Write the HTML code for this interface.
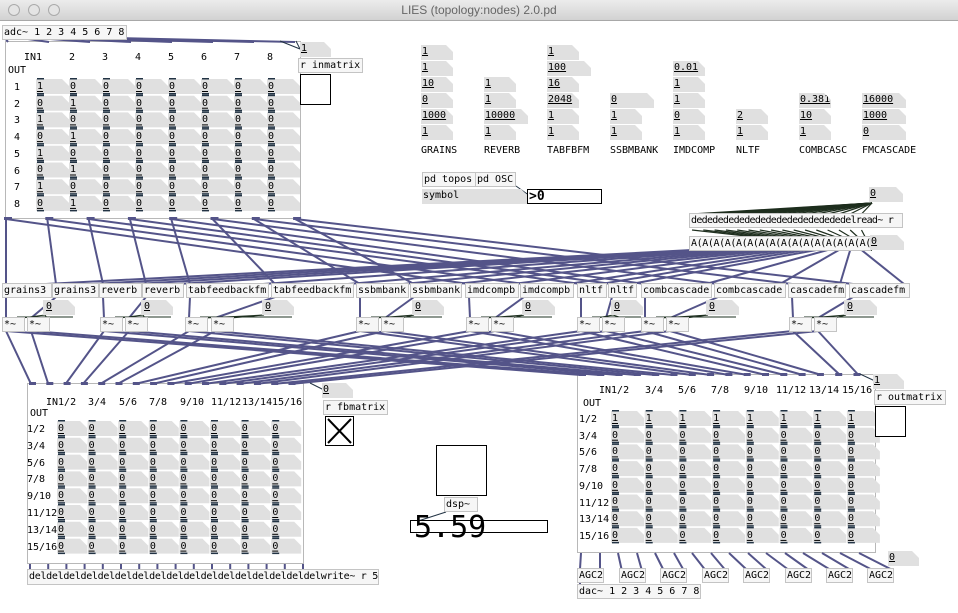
<!DOCTYPE html>
<html><head><meta charset="utf-8"><style>
*{margin:0;padding:0;box-sizing:border-box}
body{width:958px;height:613px;background:#fff;position:relative;overflow:hidden;font-family:"DejaVu Sans Mono","Liberation Mono",monospace;font-size:10px;color:#000}
#tb{position:absolute;left:0;top:0;width:958px;height:21px;background:linear-gradient(#ececec,#d2d2d2);border-bottom:1px solid #a8a8a8;font-family:"Liberation Sans",sans-serif;font-size:12px;color:#666;text-align:center;line-height:21px}
.tl{position:absolute;top:4px;width:12px;height:12px;border-radius:50%;border:1px solid #aaa;background:#e4e4e4}
svg{position:absolute;left:0;top:0}
.o,.n,.l{position:absolute;white-space:pre;line-height:13px;height:15px}
.o{border:1px solid #c4c4c4;background:#f6f6f6;padding-left:1px;overflow:hidden}
.n{background:#e0e0e0;clip-path:polygon(0 0,calc(100% - 7px) 0,100% 7px,100% 100%,0 100%);padding-left:1px;text-decoration:underline}
.g{position:absolute;background:#fff;border:1px solid #b8b8b8}
.row{position:absolute;white-space:pre;line-height:13px}
</style></head><body>
<div id="tb"><span class="tl" style="left:8px"></span><span class="tl" style="left:28px"></span><span class="tl" style="left:48px"></span>LIES (topology:nodes) 2.0.pd</div>

<div class="g" style="left:5px;top:41px;width:296px;height:178px"></div>
<div class="g" style="left:27px;top:383px;width:277px;height:181px"></div>
<div class="g" style="left:577px;top:374px;width:299px;height:179px"></div>

<svg id="s" width="958" height="613"></svg>

<!-- top matrix text -->
<div class="l" style="left:24px;top:51px">IN1</div>
<div class="l" style="left:69px;top:51px">2</div>
<div class="l" style="left:102px;top:51px">3</div>
<div class="l" style="left:135px;top:51px">4</div>
<div class="l" style="left:168px;top:51px">5</div>
<div class="l" style="left:201px;top:51px">6</div>
<div class="l" style="left:234px;top:51px">7</div>
<div class="l" style="left:267px;top:51px">8</div>
<div class="l" style="left:8px;top:64px">OUT</div>
<div class="l" style="left:14px;top:80px;line-height:16.7px;height:140px">1
2
3
4
5
6
7
8</div>
<div class="row" style="left:37px;top:80px;letter-spacing:26.98px">10000000</div>
<div class="row" style="left:37px;top:97px;letter-spacing:26.98px">01000000</div>
<div class="row" style="left:37px;top:113px;letter-spacing:26.98px">10000000</div>
<div class="row" style="left:37px;top:130px;letter-spacing:26.98px">01000000</div>
<div class="row" style="left:37px;top:147px;letter-spacing:26.98px">10000000</div>
<div class="row" style="left:37px;top:163px;letter-spacing:26.98px">01000000</div>
<div class="row" style="left:37px;top:180px;letter-spacing:26.98px">10000000</div>
<div class="row" style="left:37px;top:197px;letter-spacing:26.98px">01000000</div>

<!-- fb matrix text -->
<div class="l" style="left:46px;top:396px">IN1/2</div>
<div class="l" style="left:88px;top:396px">3/4</div>
<div class="l" style="left:119px;top:396px">5/6</div>
<div class="l" style="left:149px;top:396px">7/8</div>
<div class="l" style="left:180px;top:396px">9/10</div>
<div class="l" style="left:211px;top:396px">11/12</div>
<div class="l" style="left:242px;top:396px">13/14</div>
<div class="l" style="left:272px;top:396px">15/16</div>
<div class="l" style="left:30px;top:407px">OUT</div>
<div class="l" style="left:27px;top:422px;line-height:16.8px;height:140px">1/2
3/4
5/6
7/8
9/10
11/12
13/14
15/16</div>
<div class="row" style="left:58px;top:422px;letter-spacing:24.6px">00000000</div>
<div class="row" style="left:58px;top:439px;letter-spacing:24.6px">00000000</div>
<div class="row" style="left:58px;top:456px;letter-spacing:24.6px">00000000</div>
<div class="row" style="left:58px;top:472px;letter-spacing:24.6px">00000000</div>
<div class="row" style="left:58px;top:489px;letter-spacing:24.6px">00000000</div>
<div class="row" style="left:58px;top:506px;letter-spacing:24.6px">00000000</div>
<div class="row" style="left:58px;top:523px;letter-spacing:24.6px">00000000</div>
<div class="row" style="left:58px;top:540px;letter-spacing:24.6px">00000000</div>

<!-- out matrix text -->
<div class="l" style="left:599px;top:384px">IN1/2</div>
<div class="l" style="left:645px;top:384px">3/4</div>
<div class="l" style="left:678px;top:384px">5/6</div>
<div class="l" style="left:711px;top:384px">7/8</div>
<div class="l" style="left:744px;top:384px">9/10</div>
<div class="l" style="left:776px;top:384px">11/12</div>
<div class="l" style="left:809px;top:384px">13/14</div>
<div class="l" style="left:842px;top:384px">15/16</div>
<div class="l" style="left:583px;top:397px">OUT</div>
<div class="l" style="left:579px;top:412px;line-height:16.7px;height:140px">1/2
3/4
5/6
7/8
9/10
11/12
13/14
15/16</div>
<div class="row" style="left:612px;top:412px;letter-spacing:27.7px">11111111</div>
<div class="row" style="left:612px;top:429px;letter-spacing:27.7px">00000000</div>
<div class="row" style="left:612px;top:445px;letter-spacing:27.7px">00000000</div>
<div class="row" style="left:612px;top:462px;letter-spacing:27.7px">00000000</div>
<div class="row" style="left:612px;top:479px;letter-spacing:27.7px">00000000</div>
<div class="row" style="left:612px;top:495px;letter-spacing:27.7px">00000000</div>
<div class="row" style="left:612px;top:512px;letter-spacing:27.7px">00000000</div>
<div class="row" style="left:612px;top:529px;letter-spacing:27.7px">00000000</div>

<div class="o" style="left:2px;top:25px;width:125px">adc~ 1 2 3 4 5 6 7 8</div>
<div class="n" style="left:300px;top:42px;width:31px">1</div>
<div class="o" style="left:298px;top:58px;width:65px">r inmatrix</div>
<div class="g" style="left:300px;top:74px;width:31px;height:31px;border-color:#000"></div>

<!-- param numboxes -->
<div class="n" style="left:421px;top:45px;width:32px">1</div>
<div class="n" style="left:421px;top:61px;width:32px">1</div>
<div class="n" style="left:421px;top:77px;width:32px">10</div>
<div class="n" style="left:421px;top:93px;width:32px">0</div>
<div class="n" style="left:421px;top:109px;width:32px">1000</div>
<div class="n" style="left:421px;top:125px;width:32px">1</div>
<div class="n" style="left:484px;top:77px;width:32px">1</div>
<div class="n" style="left:484px;top:93px;width:32px">1</div>
<div class="n" style="left:484px;top:109px;width:44px">10000</div>
<div class="n" style="left:484px;top:125px;width:32px">1</div>
<div class="n" style="left:547px;top:45px;width:32px">1</div>
<div class="n" style="left:547px;top:61px;width:44px">100</div>
<div class="n" style="left:547px;top:77px;width:32px">16</div>
<div class="n" style="left:547px;top:93px;width:32px">2048</div>
<div class="n" style="left:547px;top:109px;width:32px">1</div>
<div class="n" style="left:547px;top:125px;width:32px">1</div>
<div class="n" style="left:610px;top:93px;width:44px">0</div>
<div class="n" style="left:610px;top:109px;width:32px">1</div>
<div class="n" style="left:610px;top:125px;width:32px">1</div>
<div class="n" style="left:673px;top:61px;width:32px">0.01</div>
<div class="n" style="left:673px;top:77px;width:32px">1</div>
<div class="n" style="left:673px;top:93px;width:32px">1</div>
<div class="n" style="left:673px;top:109px;width:32px">0</div>
<div class="n" style="left:673px;top:125px;width:32px">1</div>
<div class="n" style="left:736px;top:109px;width:32px">2</div>
<div class="n" style="left:736px;top:125px;width:32px">1</div>
<div class="n" style="left:799px;top:93px;width:32px">0.381</div>
<div class="n" style="left:799px;top:109px;width:32px">10</div>
<div class="n" style="left:799px;top:125px;width:32px">1</div>
<div class="n" style="left:862px;top:93px;width:44px">16000</div>
<div class="n" style="left:862px;top:109px;width:44px">1000</div>
<div class="n" style="left:862px;top:125px;width:44px">0</div>
<div class="l" style="left:421px;top:144px">GRAINS</div>
<div class="l" style="left:484px;top:144px">REVERB</div>
<div class="l" style="left:547px;top:144px">TABFBFM</div>
<div class="l" style="left:610px;top:144px">SSBMBANK</div>
<div class="l" style="left:673px;top:144px">IMDCOMP</div>
<div class="l" style="left:736px;top:144px">NLTF</div>
<div class="l" style="left:799px;top:144px">COMBCASC</div>
<div class="l" style="left:862px;top:144px">FMCASCADE</div>

<div class="o" style="left:422px;top:172px;width:54px">pd topos</div>
<div class="o" style="left:475px;top:172px;width:41px">pd OSC</div>
<div class="n" style="left:422px;top:189px;width:106px;text-decoration:none">symbol</div>
<div class="o" style="left:527px;top:189px;width:75px;background:#fff;border-color:#000;font-weight:bold;font-size:13px">&gt;0</div>

<div class="n" style="left:869px;top:187px;width:34px">0</div>
<div class="o" style="left:689px;top:213px;width:214px;letter-spacing:-0.7px">dededededededededededededededelread~ r</div>
<div class="o" style="left:689px;top:236px;width:182px;letter-spacing:-0.4px">A(A(A(A(A(A(A(A(A(A(A(A(A(A(A(A(</div>
<div class="n" style="left:870px;top:235px;width:34px">0</div>

<!-- object row -->
<div class="o" style="left:2px;top:283px;width:50px">grains3</div>
<div class="o" style="left:52px;top:283px;width:47px">grains3</div>
<div class="o" style="left:99px;top:283px;width:43px">reverb</div>
<div class="o" style="left:142px;top:283px;width:42px">reverb</div>
<div class="o" style="left:186px;top:283px;width:83px">tabfeedbackfm</div>
<div class="o" style="left:271px;top:283px;width:83px">tabfeedbackfm</div>
<div class="o" style="left:356px;top:283px;width:53px">ssbmbank</div>
<div class="o" style="left:410px;top:283px;width:52px">ssbmbank</div>
<div class="o" style="left:465px;top:283px;width:54px">imdcompb</div>
<div class="o" style="left:520px;top:283px;width:54px">imdcompb</div>
<div class="o" style="left:577px;top:283px;width:30px">nltf</div>
<div class="o" style="left:608px;top:283px;width:29px">nltf</div>
<div class="o" style="left:641px;top:283px;width:71px">combcascade</div>
<div class="o" style="left:714px;top:283px;width:72px">combcascade</div>
<div class="o" style="left:788px;top:283px;width:58px">cascadefm</div>
<div class="o" style="left:849px;top:283px;width:61px">cascadefm</div>

<div class="n" style="left:43px;top:300px;width:32px;padding-left:3px">0</div>
<div class="n" style="left:141px;top:300px;width:32px;padding-left:3px">0</div>
<div class="n" style="left:262px;top:300px;width:32px;padding-left:3px">0</div>
<div class="n" style="left:412px;top:300px;width:32px;padding-left:3px">0</div>
<div class="n" style="left:522px;top:300px;width:33px;padding-left:3px">0</div>
<div class="n" style="left:611px;top:300px;width:32px;padding-left:3px">0</div>
<div class="n" style="left:706px;top:300px;width:33px;padding-left:3px">0</div>
<div class="n" style="left:844px;top:300px;width:33px;padding-left:3px">0</div>

<div class="o" style="left:2px;top:317px;width:23px">*~</div>
<div class="o" style="left:27px;top:317px;width:23px">*~</div>
<div class="o" style="left:100px;top:317px;width:23px">*~</div>
<div class="o" style="left:125px;top:317px;width:23px">*~</div>
<div class="o" style="left:185px;top:317px;width:23px">*~</div>
<div class="o" style="left:211px;top:317px;width:23px">*~</div>
<div class="o" style="left:356px;top:317px;width:23px">*~</div>
<div class="o" style="left:381px;top:317px;width:23px">*~</div>
<div class="o" style="left:466px;top:317px;width:23px">*~</div>
<div class="o" style="left:491px;top:317px;width:23px">*~</div>
<div class="o" style="left:577px;top:317px;width:23px">*~</div>
<div class="o" style="left:602px;top:317px;width:23px">*~</div>
<div class="o" style="left:641px;top:317px;width:23px">*~</div>
<div class="o" style="left:666px;top:317px;width:23px">*~</div>
<div class="o" style="left:789px;top:317px;width:23px">*~</div>
<div class="o" style="left:814px;top:317px;width:23px">*~</div>

<!-- fb matrix side -->
<div class="n" style="left:322px;top:383px;width:31px">0</div>
<div class="o" style="left:323px;top:400px;width:65px">r fbmatrix</div>
<div class="g" style="left:325px;top:416px;width:29px;height:30px;border-color:#000"></div>
<svg width="958" height="613" style="pointer-events:none"><line x1="328" y1="419" x2="351" y2="443" stroke="#000" stroke-width="2"/><line x1="351" y1="419" x2="328" y2="443" stroke="#000" stroke-width="2"/></svg>

<div class="n" style="left:873px;top:374px;width:31px">1</div>
<div class="o" style="left:874px;top:390px;width:72px">r outmatrix</div>
<div class="g" style="left:875px;top:406px;width:31px;height:31px;border-color:#000"></div>

<!-- dsp -->
<div class="g" style="left:436px;top:445px;width:51px;height:51px;border-color:#000"></div>
<div class="o" style="left:444px;top:497px;width:34px">dsp~</div>
<div class="o" style="left:410px;top:520px;width:138px;height:13px;background:#fff;border-color:#000"></div>
<div class="l" style="left:414px;top:510px;font-size:30px;line-height:36px;height:36px">5.59</div>

<!-- bottom rows -->
<div class="o" style="left:27px;top:569px;width:352px;height:16px;letter-spacing:-0.3px">deldeldeldeldeldeldeldeldeldeldeldeldeldeldeldeldelwrite~ r 50</div>
<div class="n" style="left:888px;top:551px;width:31px">0</div>
<div class="o" style="left:577px;top:568px;width:27px">AGC2</div>
<div class="o" style="left:619px;top:568px;width:27px">AGC2</div>
<div class="o" style="left:660px;top:568px;width:27px">AGC2</div>
<div class="o" style="left:702px;top:568px;width:27px">AGC2</div>
<div class="o" style="left:743px;top:568px;width:27px">AGC2</div>
<div class="o" style="left:785px;top:568px;width:27px">AGC2</div>
<div class="o" style="left:826px;top:568px;width:27px">AGC2</div>
<div class="o" style="left:867px;top:568px;width:27px">AGC2</div>
<div class="o" style="left:577px;top:584px;width:124px">dac~ 1 2 3 4 5 6 7 8</div>

<script>
var s=document.getElementById('s'),NS='http://www.w3.org/2000/svg';
function L(a,b,c,d,col,w){var e=document.createElementNS(NS,'line');e.setAttribute('x1',a);e.setAttribute('y1',b);e.setAttribute('x2',c);e.setAttribute('y2',d);e.setAttribute('stroke',col||'#545489');e.setAttribute('stroke-width',w||2);s.appendChild(e);}
function R(x,y,w,h,f){var e=document.createElementNS(NS,'rect');e.setAttribute('x',x);e.setAttribute('y',y);e.setAttribute('width',w);e.setAttribute('height',h);e.setAttribute('fill',f);s.appendChild(e);}
function P(x,y,w,h,f){var e=document.createElementNS(NS,'polygon');e.setAttribute('points',[x,y,x+w-7,y,x+w,y+7,x+w,y+h,x,y+h].join(' '));e.setAttribute('fill',f);s.appendChild(e);}
function grid(x0,dx,y0,dy,w){for(var r=0;r<8;r++)for(var c=0;c<8;c++){var x=x0+c*dx,y=y0+r*dy;P(x,y,w,15,'#e0e0e0');R(x+1,y-1,7,1.5,'#234');R(x+1,y+12,6,1,'#000');R(x+1,y+14,7,1.5,'#234');}}
grid(36,33,79,16.7,33);grid(57,30.6,421,16.8,30);grid(611,33.7,411,16.7,33);
var ob=[[2,50],[52,47],[99,43],[142,42],[186,83],[271,83],[356,53],[410,52],[465,54],[520,54],[577,30],[608,29],[641,71],[714,72],[788,58],[849,61]];
for(var k=0;k<8;k++){var x=6+k*41.3;L(x,219,ob[k][0]+4,284);L(x,219,ob[k+8][0]+4,284);}
for(k=0;k<8;k++)L(5+k*16,38,8+k*41,42);
for(k=0;k<16;k++){var ax=692+k*11.3;L(ax,250,ob[k][0]+ob[k][1]-6,284);}
var mul=[2,27,100,125,185,211,356,381,466,491,577,602,641,666,789,814];
for(k=0;k<16;k++){L(ob[k][0]+4,297,mul[k]+4,318);}
var nb=[43,141,262,412,522,611,706,844];
for(k=0;k<8;k++){L(nb[k]+2,315,mul[2*k]+20,318,'#1e3020',1);L(nb[k]+2,315,mul[2*k+1]+20,318,'#1e3020',1);L(mul[2*k]+15,317,nb[k]+30,317,'#1e3020',1);}
for(k=0;k<16;k++){var mx=mul[k]+4;L(mx,331,31+k*17.3,384);L(mx,331,581+k*18.5,375);}
for(k=0;k<16;k++){L(30+k*18.2,564,30+k*18.2,570);}
for(k=0;k<8;k++){L(581+k*37,553,580+k*41.5,569);L(600+k*37,553,600+k*41.5,569);}
L(580,582,580,585);
for(k=0;k<16;k++){L(872,203,692+k*11.3,214,'#1e2e1e',1.2);L(692+k*11.3,230,872,250,'#1e2e1e',1.2);}
for(k=0;k<16;k++){R(29+k*17.3,382,7,3,'#545489');R(579+k*18.3,373,7,3,'#545489');}
for(k=0;k<8;k++){R(4+k*41.3,217,8,3,'#545489');}
L(300,49,280,41,'#234',1);L(300,49,296,41,'#234',1);L(324,390,310,383,'#234',1);L(875,381,860,374,'#234',1);
L(446,512,415,522,'#234',1);L(516,186,530,196,'#234',1);
</script>
</body></html>
